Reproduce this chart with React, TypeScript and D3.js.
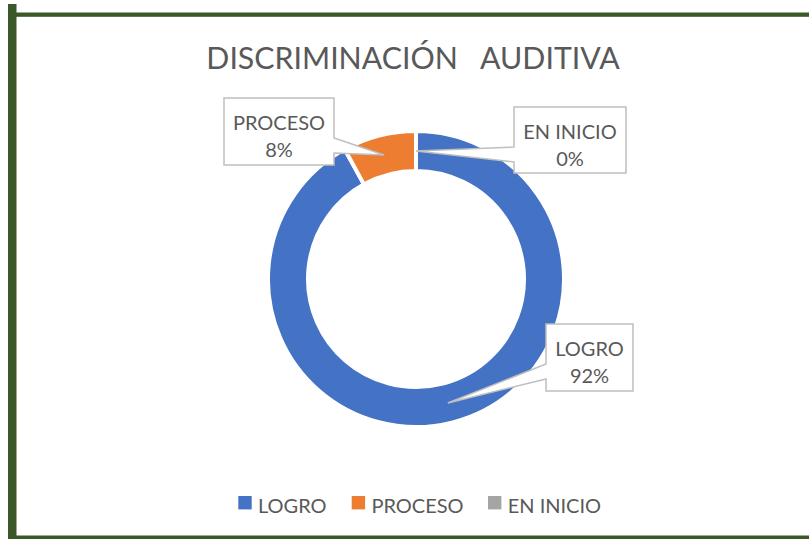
import React from "react";
import * as d3 from "d3";

const categories = ["LOGRO", "PROCESO", "EN INICIO"];
const values = [92, 8, 0];
const percentLabels = ["92%", "8%", "0%"];
const colors = ["#4472C4", "#ED7D31", "#A5A5A5"];
const title = "DISCRIMINACIÓN\u00A0\u00A0\u00A0AUDITIVA";

const W = 809;
const H = 539;
const CX = 416;
const CY = 279;
const R_OUT = 148;
const R_IN = 108;
const FONT = "Lato, 'Open Sans', sans-serif";
const TEXT = "#595959";

// callout boxes [x, y, w, h, side]
const boxes: { x: number; y: number; w: number; h: number; side: "left" | "right" }[] = [
  { x: 546, y: 324, w: 87, h: 67, side: "left" },
  { x: 224, y: 98, w: 110, h: 67, side: "right" },
  { x: 514, y: 107, w: 112, h: 66, side: "left" },
];
const legendSquareX = [238.3, 351.7, 488];

export default function App() {
  const pie = d3.pie<number>().value((d) => d).sort(null);
  const arcs = pie(values);
  const arc = d3.arc<d3.PieArcDatum<number>>().innerRadius(R_IN).outerRadius(R_OUT);
  const mid = d3.arc<d3.PieArcDatum<number>>().innerRadius(128).outerRadius(128);

  return (
    <svg
      width={W}
      height={H}
      style={{ position: "absolute", left: 0, top: 0, background: "#fff" }}
      fontFamily={FONT}
    >
      <rect x={0} y={0} width={W} height={H} fill="#fff" />
      {/* frame */}
      <rect x={8} y={4} width={8.5} height={H - 4} fill="#3B5828" />
      <rect x={16} y={12.5} width={W - 16} height={4.3} fill="#3B5828" />
      <rect x={16} y={535.5} width={W - 16} height={4} fill="#3B5828" />

      <text x={413} y={69.3} textAnchor="middle" fontSize={30.3} fill={TEXT}>
        {title}
      </text>

      <g transform={`translate(${CX},${CY})`}>
        {arcs.map((a, i) => (
          <path key={i} d={arc(a) || ""} fill={colors[i]} stroke="#fff" strokeWidth={4} />
        ))}
      </g>

      {arcs.map((a, i) => {
        const [mx, my] = mid.centroid(a);
        const tx = CX + mx;
        const ty = CY + my;
        const b = boxes[i];
        const ex = b.side === "left" ? b.x : b.x + b.w;
        const y1 = b.y + 40;
        const y2 = b.y + 55;
        let pts: [number, number][];
        if (b.side === "left") {
          pts = [
            [b.x, b.y],
            [b.x + b.w, b.y],
            [b.x + b.w, b.y + b.h],
            [b.x, b.y + b.h],
            [ex, y2],
            [tx, ty],
            [ex, y1],
          ];
        } else {
          pts = [
            [b.x, b.y],
            [b.x + b.w, b.y],
            [ex, y1],
            [tx, ty],
            [ex, y2],
            [b.x + b.w, b.y + b.h],
            [b.x, b.y + b.h],
          ];
        }
        const cx = b.x + b.w / 2;
        return (
          <g key={"l" + i}>
            <polygon
              points={pts.map((p) => p.join(",")).join(" ")}
              fill="#fff"
              stroke="#BFBFBF"
              strokeWidth={1.5}
              strokeLinejoin="miter"
            />
            <text x={cx} y={b.y + 31.5} textAnchor="middle" fontSize={20} fill={TEXT}>
              {categories[i]}
            </text>
            <text x={cx} y={b.y + 58.5} textAnchor="middle" fontSize={20} fill={TEXT}>
              {percentLabels[i]}
            </text>
          </g>
        );
      })}

      {categories.map((c, i) => (
        <g key={"lg" + i}>
          <rect x={legendSquareX[i]} y={496} width={13.4} height={13.4} fill={colors[i]} />
          <text x={legendSquareX[i] + 19.7} y={512.7} fontSize={20} fill={TEXT}>
            {c}
          </text>
        </g>
      ))}
    </svg>
  );
}
